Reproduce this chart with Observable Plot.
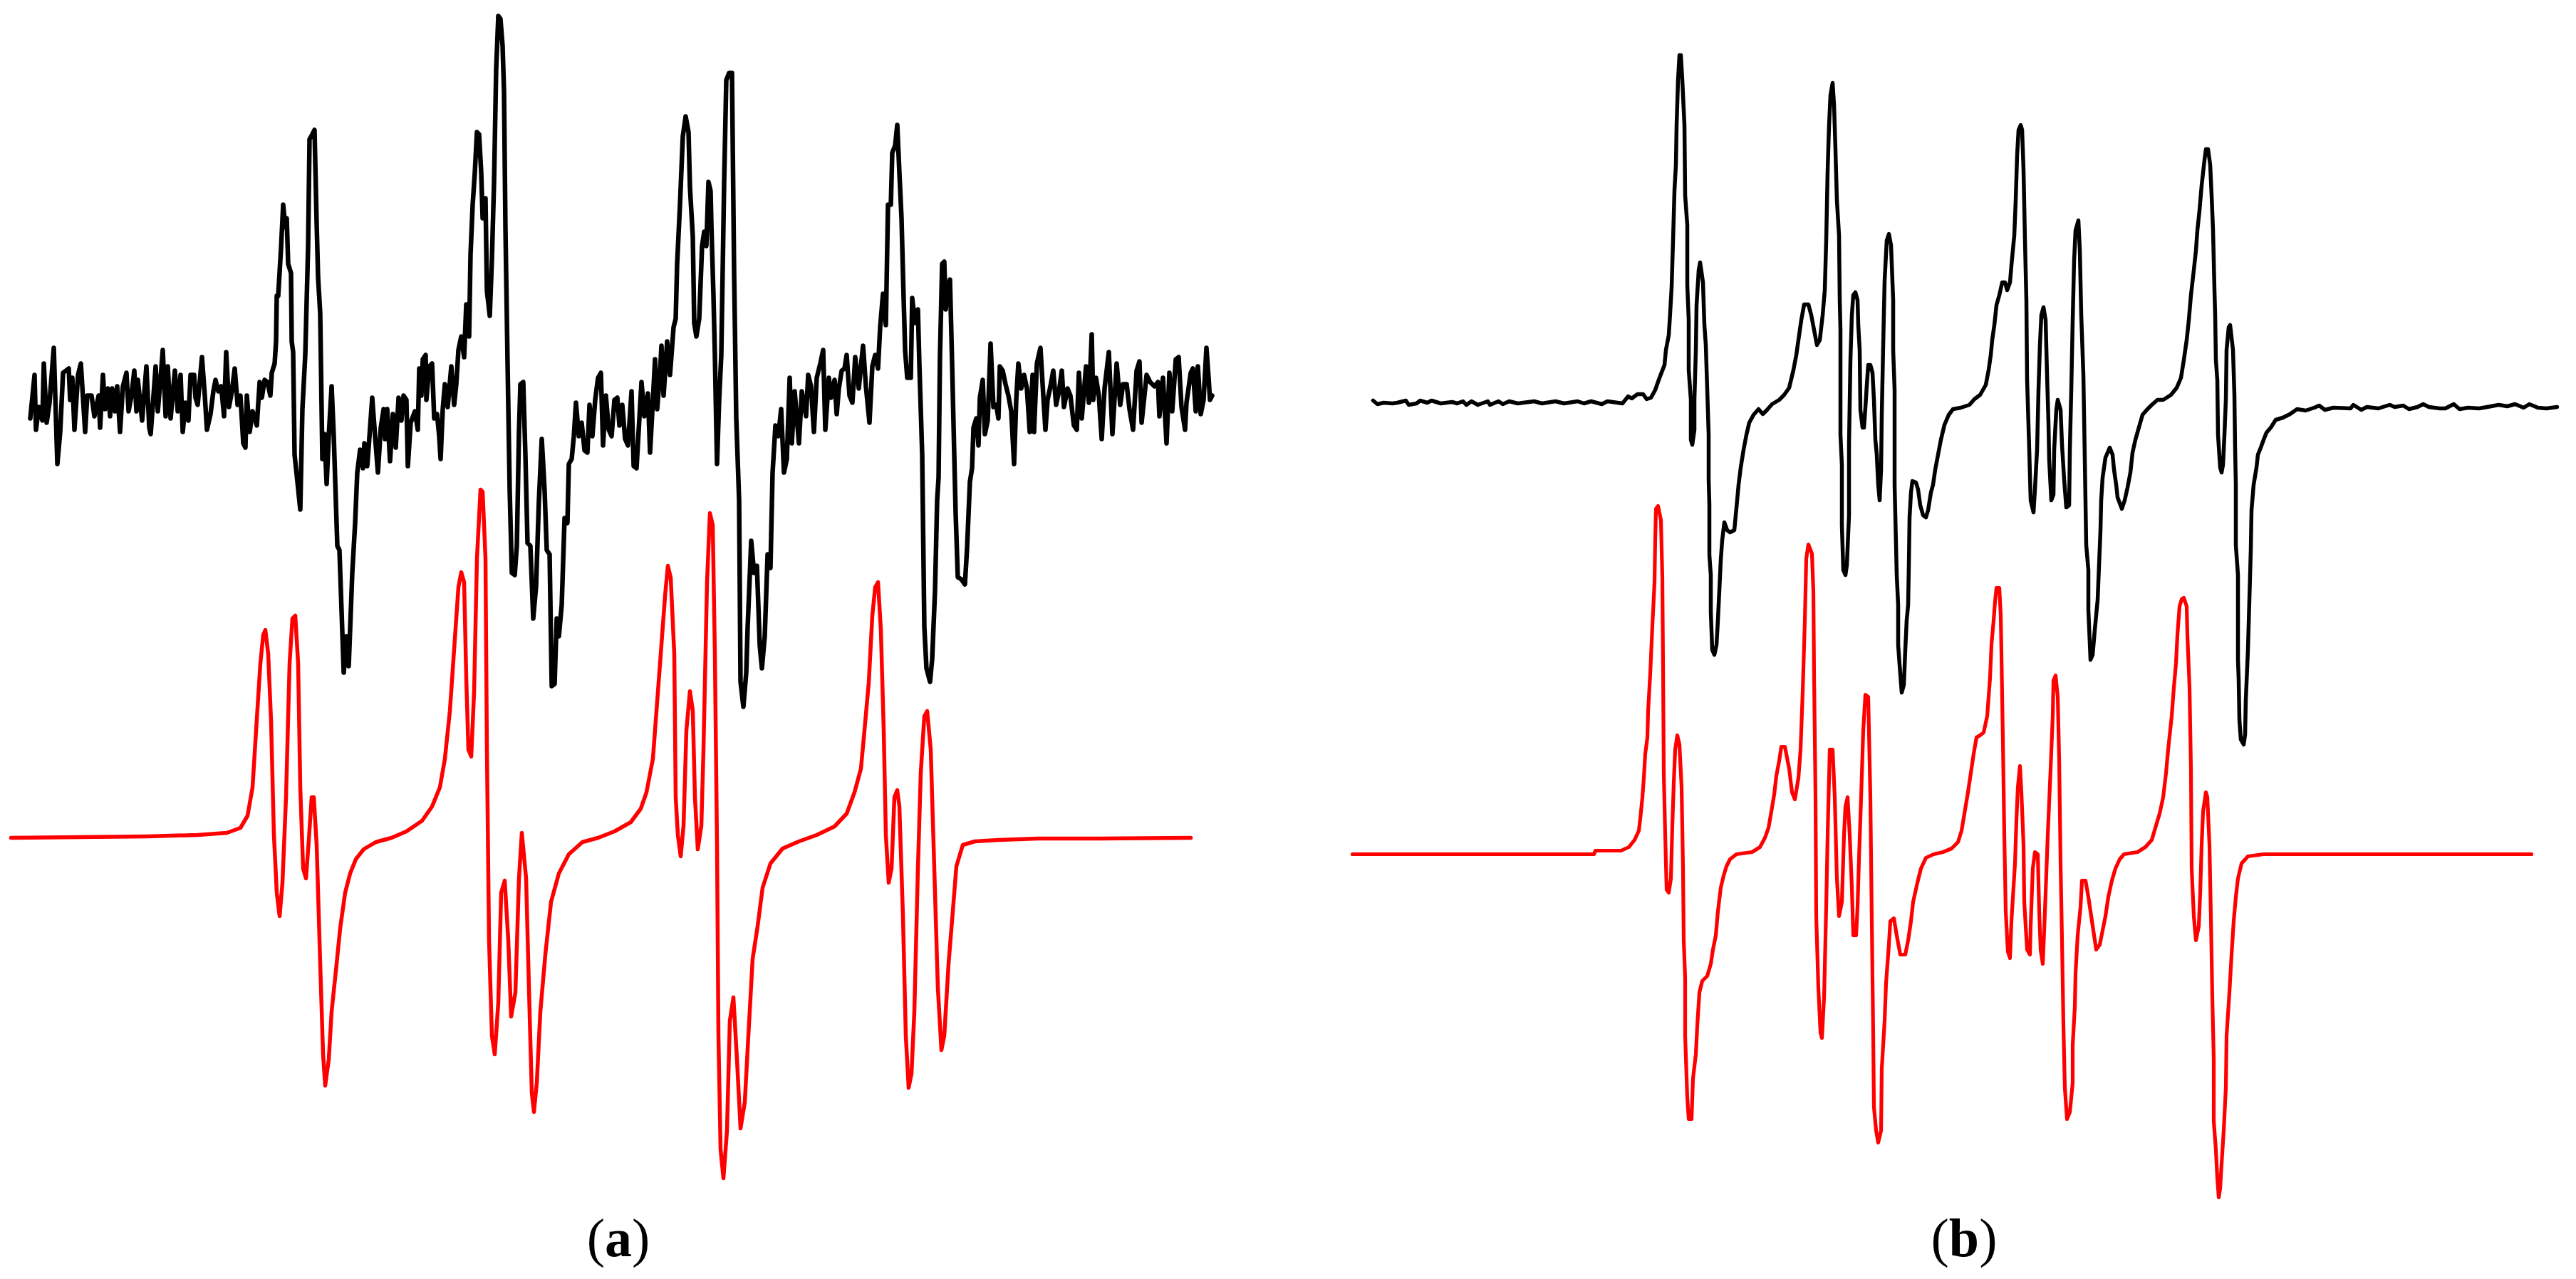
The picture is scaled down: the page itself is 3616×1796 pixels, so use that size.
<!DOCTYPE html>
<html>
<head>
<meta charset="utf-8">
<script src="https://cdn.jsdelivr.net/npm/d3@7"></script>
<script src="https://cdn.jsdelivr.net/npm/@observablehq/plot@0.6"></script>
<style>
html, body { margin: 0; padding: 0; background: #ffffff; }
#wrap { position: relative; width: 3616px; height: 1796px; overflow: hidden; background: #ffffff; }
.panel { position: absolute; top: 0; }
.label { position: absolute; font-family: "Liberation Serif", "DejaVu Serif", serif; font-size: 76px; line-height: 1; transform: translateX(-50%); white-space: nowrap; color: #000; }
.label b { font-weight: bold; }
</style>
</head>
<body>
<div id="wrap">
  <div id="pa" class="panel" style="left:0px"></div>
  <div id="pb" class="panel" style="left:1808px"></div>
  <div class="label" style="left:868px; top:1700px">(<b>a</b>)</div>
  <div class="label" style="left:2757px; top:1700px">(<b>b</b>)</div>
</div>
<script>
// Spectra: [field (arbitrary units), signal (arbitrary units, 0 = baseline)]
const panelLabels = ["(a)", "(b)"];

// Panel (a), experimental spectrum (black, noisy)
const aExperimental = [
[42,-12],[48,49],[50,-28],[54,4],[59,-15],[61,65],[65,-18],[69,10],[75,87],[80,-76],[84,-31],[88,52],[96,58],[98,14],[101,45],[104,-28],[109,49],[113,65],[119,-31],[122,20],[128,20],[132,-9],[138,20],[140,-25],[144,49],[147,1],[151,30],[154,-9],[157,30],[161,-2],[164,33],[168,-31],[172,33],[177,52],[180,-2],[184,20],[188,55],[191,-2],[193,42],[199,-15],[205,61],[209,-25],[211,-34],[218,61],[221,-2],[224,33],[228,84],[232,-9],[235,61],[239,-12],[245,55],[249,-2],[253,49],[256,-31],[260,10],[264,-15],[267,49],[272,49],[274,17],[277,7],[283,74],[287,20],[290,-28],[295,-6],[299,26],[302,42],[306,26],[310,33],[314,-9],[317,81],[321,4],[325,26],[329,58],[333,7],[337,20],[341,-47],[344,-53],[346,20],[350,-31],[354,-2],[360,-22],[364,39],[367,17],[371,42],[375,39],[379,20],[381,52],[385,65],[387,96],[388,160],[390,160],[394,227],[397,288],[400,256],[402,269],[404,205],[408,192],[409,96],[411,81],[413,-63],[417,-101],[421,-140],[424,1],[428,77],[432,230],[434,380],[438,387],[441,393],[444,262],[446,186],[449,135],[452,-69],[455,-34],[458,-104],[461,-37],[465,33],[468,-37],[473,-191],[476,-197],[482,-369],[486,-318],[489,-360],[494,-229],[498,-159],[501,-88],[505,-56],[509,-82],[511,-47],[515,-79],[519,-25],[522,17],[526,-37],[530,-88],[534,-25],[538,1],[540,-41],[543,1],[547,-72],[551,-6],[555,-53],[559,17],[563,-15],[566,20],[570,14],[572,-79],[576,-18],[582,-2],[586,-28],[588,58],[591,20],[593,71],[597,77],
[598,14],[602,61],[606,65],[609,-12],[613,-6],[616,-37],[618,-69],[621,1],[624,36],[628,4],[633,61],[637,7],[640,36],[643,84],[647,103],[651,74],[654,148],[658,103],[660,218],[663,288],[666,333],[669,390],[672,387],[675,333],[677,269],[681,297],[683,167],[687,132],[690,211],[693,320],[696,479],[699,553],[702,549],[705,511],[707,447],[709,256],[712,65],[715,-114],[718,-229],[722,-232],[725,-191],[728,-31],[730,36],[734,39],[737,-63],[740,-187],[744,-191],[748,-293],[752,-248],[756,-127],[760,-41],[764,-114],[767,-197],[771,-203],[774,-388],[778,-385],[781,-293],[784,-318],[788,-274],[792,-152],[796,-159],[798,-76],[802,-69],[805,-37],[808,10],[812,-37],[816,-18],[820,-57],[824,-60],[827,7],[831,-37],[835,14],[839,45],[843,52],[846,-50],[850,20],[854,-28],[858,-37],[862,14],[866,17],[869,-22],[873,7],[877,-41],[881,-50],[886,26],[889,-79],[893,-82],[897,-12],[900,39],[904,-9],[909,23],[912,-60],[916,14],[919,71],[922,1],[926,52],[928,90],[931,20],[936,96],[940,49],[945,116],[948,128],[950,205],[954,288],[958,384],[962,412],[966,390],[968,313],[972,243],[974,122],[977,103],[981,128],[985,230],[988,250],[991,230],[994,320],[997,307],[998,262],[1001,160],[1003,77],[1006,-76],[1009,14],[1012,77],[1016,320],[1019,463],[1023,473],[1027,473],[1030,192],[1033,-12],[1037,-127],[1039,-382],[1043,-417],[1047,-369],[1049,-305],[1054,-184],[1058,-229],[1062,-219],[1066,-331],[1069,-363],[1073,-318],[1077,-203],[1081,-222],[1084,-88],[1088,-22],[1092,-37],[1096,1],[1100,-88],[1104,-69],[1108,45],[1111,-47],[1115,26],[1121,-47],[1125,26],[1131,-9],[1134,49],[1138,33],[1142,-31],[1146,45],[1151,65],[1155,84],[1158,-28],
[1163,45],[1166,17],[1171,42],[1174,-6],[1177,30],[1181,55],[1185,58],[1188,77],[1192,20],[1196,10],[1200,74],[1205,30],[1209,71],[1211,90],[1215,33],[1220,-18],[1224,61],[1228,77],[1232,58],[1235,116],[1239,163],[1243,119],[1246,288],[1250,288],[1252,361],[1256,371],[1259,400],[1262,333],[1265,269],[1267,192],[1270,84],[1273,45],[1278,45],[1280,157],[1284,122],[1288,141],[1290,65],[1294,-63],[1297,-305],[1300,-363],[1305,-382],[1308,-350],[1312,-254],[1315,-127],[1317,-95],[1319,77],[1322,205],[1325,208],[1327,141],[1330,173],[1333,183],[1336,65],[1339,-63],[1341,-146],[1344,-235],[1349,-238],[1354,-245],[1357,-194],[1361,-101],[1364,-82],[1366,-25],[1370,-12],[1373,-50],[1375,17],[1379,42],[1382,-34],[1386,-15],[1390,93],[1394,4],[1398,7],[1401,-12],[1403,61],[1407,55],[1411,36],[1415,20],[1419,-2],[1423,-76],[1426,14],[1429,65],[1433,30],[1437,49],[1441,30],[1445,-31],[1449,49],[1451,-31],[1455,65],[1460,87],[1464,20],[1467,-28],[1470,14],[1474,33],[1478,55],[1482,7],[1486,26],[1490,55],[1493,4],[1498,30],[1502,20],[1507,-22],[1511,-28],[1514,52],[1518,-12],[1524,61],[1528,10],[1532,106],[1534,14],[1538,45],[1542,20],[1546,-41],[1550,30],[1556,81],[1561,-34],[1567,65],[1572,7],[1576,36],[1581,36],[1585,1],[1590,-28],[1595,55],[1599,68],[1602,-18],[1609,49],[1614,39],[1620,33],[1625,39],[1627,-9],[1632,45],[1637,-47],[1641,52],[1645,-2],[1650,71],[1654,74],[1658,4],[1663,-28],[1665,10],[1671,52],[1674,58],[1678,-2],[1681,61],[1685,-6],[1689,14],[1693,87],[1696,45],[1698,14],[1701,20]
];

// Panel (a), simulated spectrum (red)
const aSimulated = [
[15,0],[206,2],[277,4],[318,7],[337,14],[347,31],[354,71],[359,151],[365,245],[369,285],[372,292],[376,258],[380,164],[384,4],[388,-77],[392,-110],[396,-63],[401,57],[406,245],[410,308],[414,312],[418,245],[421,71],[425,-43],[429,-57],[433,-3],[437,57],[440,57],[444,-10],[449,-177],[453,-304],[456,-348],[461,-311],[465,-244],[472,-177],[477,-127],[484,-77],[491,-50],[499,-30],[510,-16],[527,-6],[549,0],[570,9],[592,24],[606,44],[617,71],[624,111],[631,178],[637,265],[643,352],[647,373],[651,359],[654,225],[657,124],[661,114],[665,205],[669,392],[674,489],[677,486],[681,392],[683,124],[686,-144],[690,-278],[694,-304],[699,-231],[703,-77],[708,-60],[713,-144],[717,-251],[723,-217],[728,-57],[732,7],[738,-57],[742,-211],[746,-358],[749,-385],[753,-344],[758,-244],[765,-164],[773,-90],[784,-50],[798,-23],[817,-6],[839,0],
[862,9],[885,22],[899,41],[907,64],[916,111],[921,178],[927,258],[933,339],[937,382],[941,365],[946,258],[948,57],[951,4],[955,-26],[959,17],[963,151],[968,206],[972,178],[975,57],[979,-16],[984,17],[987,124],[992,359],[996,456],[1000,439],[1003,258],[1006,-10],[1008,-278],[1011,-438],[1015,-478],[1020,-411],[1024,-257],[1029,-224],[1034,-311],[1039,-408],[1045,-371],[1050,-278],[1056,-170],[1063,-124],[1070,-70],[1081,-36],[1098,-15],[1121,-5],[1146,4],[1171,16],[1188,34],[1199,64],[1208,97],[1213,151],[1219,218],[1224,312],[1228,352],[1232,359],[1236,292],[1240,151],[1243,4],[1247,-63],[1251,-43],[1255,57],[1259,67],[1262,44],[1267,-110],[1271,-278],[1275,-351],[1279,-331],[1283,-244],[1288,-43],[1292,91],[1297,171],[1301,178],[1306,124],[1310,-10],[1316,-211],[1321,-298],[1325,-278],[1331,-177],[1337,-103],[1342,-40],[1351,-10],[1368,-5],[1401,-3],[1457,-1],[1542,-1],[1671,0]
];

// Panel (b), experimental spectrum (black)
const bExperimental = [
[1927,3],[1933,-2],[1942,0],[1954,-1],[1961,0],[1973,3],[1977,-3],[1988,-1],[1993,3],[2003,0],[2009,3],[2022,-1],[2038,1],[2045,-1],[2053,2],[2058,-3],[2065,2],[2074,-3],[2088,2],[2091,-3],[2103,2],[2109,-2],[2118,2],[2130,-1],[2153,2],[2164,-1],[2183,2],[2195,-1],[2214,2],[2223,-1],[2233,2],[2248,-2],[2256,2],[2277,-1],[2285,9],[2290,6],[2298,12],[2306,12],[2311,5],[2317,7],[2323,18],[2329,35],[2336,53],[2338,74],[2342,95],[2344,127],[2346,162],[2348,228],[2350,298],[2352,334],[2353,390],[2355,453],[2357,488],[2359,488],[2361,453],[2364,390],[2365,291],[2368,249],[2368,165],[2370,116],[2370,46],[2373,4],[2373,-52],[2375,-59],[2378,-38],[2378,4],[2380,74],[2381,137],[2384,186],[2386,197],[2390,169],[2392,109],[2394,81],[2396,18],[2398,-45],[2398,-108],[2399,-143],[2399,-214],[2401,-242],[2401,-294],[2403,-347],[2406,-354],[2409,-340],[2411,-305],[2413,-263],[2415,-221],[2417,-193],[2420,-168],[2424,-179],[2428,-182],[2434,-179],[2436,-158],[2438,-137],[2440,-115],[2443,-91],[2447,-66],[2451,-45],[2455,-28],[2461,-17],[2468,-9],[2474,-16],[2480,-10],[2487,-2],[2497,4],
[2504,11],[2511,21],[2517,46],[2521,67],[2525,95],[2528,116],[2532,138],[2538,138],[2542,123],[2546,102],[2550,81],[2554,88],[2558,123],[2561,158],[2563,228],[2565,326],[2567,390],[2569,432],[2572,449],[2574,418],[2576,355],[2578,284],[2581,235],[2582,144],[2583,102],[2583,-45],[2585,-87],[2585,-172],[2587,-235],[2590,-242],[2592,-228],[2595,-158],[2595,-59],[2597,60],[2599,123],[2601,151],[2604,155],[2607,144],[2608,109],[2610,74],[2611,-10],[2614,-35],[2616,-35],[2618,-7],[2620,25],[2622,53],[2625,53],[2628,42],[2630,4],[2632,-52],[2634,-73],[2636,-115],[2638,-137],[2640,-94],[2641,-17],[2643,81],[2645,172],[2648,228],[2651,237],[2654,221],[2657,144],[2657,74],[2659,18],[2659,-115],[2660,-158],[2662,-242],[2664,-284],[2664,-340],[2666,-368],[2669,-407],[2672,-396],[2674,-347],[2676,-305],[2678,-284],[2679,-228],[2680,-161],[2682,-126],[2684,-110],[2689,-112],[2692,-122],[2695,-144],[2699,-158],[2703,-161],[2706,-151],[2710,-126],[2713,-115],[2716,-94],[2720,-73],[2724,-52],[2729,-31],[2735,-17],[2741,-9],[2752,-7],[2764,-3],[2771,5],[2779,11],[2787,25],[2791,46],[2794,67],[2796,88],[2799,109],[2802,137],[2806,151],[2810,169],[2814,169],[2817,158],[2821,169],[2823,193],[2827,235],[2829,284],[2831,348],[2833,383],[2836,390],[2838,383],[2840,326],[2842,228],[2844,144],[2845,32],[2848,-66],[2850,-137],[2854,-154],[2856,-122],[2859,-66],[2861,18],[2863,81],[2865,123],[2868,134],[2871,116],[2873,39],[2875,-29],[2876,-80],[2879,-137],[2882,-129],[2883,-66],[2886,-10],[2888,4],[2892,-10],[2894,-59],[2897,-108],[2900,-147],[2904,-144],[2905,-66],[2907,18],[2909,116],[2911,200],[2913,242],[2917,256],[2919,214],[2921,123],[2924,39],[2926,-80],[2928,-200],[2931,-235],[2931,-291],[2934,-361],[2937,-354],[2940,-319],[2944,-277],[2946,-228],[2948,-179],[2949,-137],[2951,-105],[2955,-77],[2961,-63],[2965,-73],[2967,-94],[2970,-115],[2972,-133],[2978,-149],[2982,-137],[2986,-119],[2990,-98],[2993,-70],[2997,-52],[3001,-38],[3007,-17],[3013,-10],[3020,-3],[3028,4],[3036,4],[3047,11],
[3055,21],[3061,35],[3065,60],[3069,88],[3072,116],[3075,151],[3079,186],[3082,214],[3084,242],[3087,270],[3090,305],[3094,341],[3096,356],[3099,356],[3102,334],[3104,291],[3106,242],[3108,158],[3109,123],[3110,60],[3112,32],[3113,-45],[3116,-91],[3118,-98],[3120,-87],[3122,-45],[3124,4],[3125,74],[3128,106],[3130,109],[3134,74],[3136,11],[3137,-66],[3138,-115],[3138,-200],[3141,-242],[3141,-361],[3142,-389],[3143,-445],[3145,-473],[3149,-480],[3151,-466],[3152,-417],[3155,-347],[3157,-277],[3159,-207],[3160,-151],[3163,-115],[3167,-91],[3169,-73],[3173,-63],[3177,-52],[3181,-42],[3187,-35],[3194,-24],[3204,-21],[3214,-16],[3224,-9],[3236,-11],[3248,-7],[3255,-4],[3263,-10],[3275,-7],[3299,-8],[3303,-3],[3314,-10],[3322,-6],[3338,-8],[3354,-3],[3361,-6],[3373,-4],[3381,-9],[3393,-6],[3401,-2],[3409,-6],[3424,-8],[3432,-8],[3444,-2],[3452,-9],[3464,-7],[3479,-8],[3491,-6],[3507,-3],[3519,-5],[3530,-2],[3542,-7],[3550,-2],[3562,-7],[3574,-8],[3589,-6]
];

// Panel (b), simulated spectrum (red)
const bSimulated = [
[1898,0],[2237,0],[2239,5],[2275,5],[2286,10],[2294,20],[2300,33],[2302,50],[2305,80],[2307,107],[2309,141],[2312,164],[2313,201],[2316,254],[2319,321],[2322,382],[2323,442],[2324,485],[2327,489],[2331,469],[2333,388],[2334,261],[2335,114],[2337,27],[2339,-50],[2342,-54],[2345,-34],[2347,40],[2349,100],[2351,147],[2354,167],[2357,154],[2360,94],[2362,-20],[2363,-121],[2365,-174],[2365,-255],[2368,-342],[2370,-372],[2374,-372],[2376,-315],[2380,-281],[2382,-241],[2385,-194],[2389,-178],[2396,-171],[2401,-154],[2404,-134],[2408,-114],[2411,-80],[2415,-47],[2419,-30],[2423,-17],[2428,-7],[2437,0],[2459,3],[2470,10],[2477,23],[2482,37],[2486,60],[2490,84],[2493,110],[2497,131],[2500,151],[2505,151],[2511,120],[2515,87],[2519,77],[2524,107],[2527,147],[2530,228],[2533,328],[2535,415],[2538,435],[2543,422],[2545,368],[2546,248],[2548,80],[2549,-87],[2552,-188],[2555,-251],[2557,-258],[2560,-201],[2563,-74],[2565,27],[2568,147],[2572,147],[2575,80],[2578,-34],[2581,-87],[2585,-67],[2588,27],[2590,67],[2593,80],[2596,27],[2599,-47],[2601,-114],[2605,-114],[2607,-74],[2609,-7],[2612,80],[2615,174],[2618,224],[2622,221],[2623,174],[2625,80],[2627,-94],[2629,-255],[2630,-355],[2633,-388],[2636,-405],[2640,-388],[2641,-301],[2645,-234],[2647,-181],[2651,-127],[2653,-94],[2658,-90],[2662,-114],[2667,-141],[2674,-141],[2678,-121],[2682,-94],[2685,-67],[2691,-40],[2696,-20],[2703,-5],[2714,0],[2727,3],[2739,8],
[2748,17],[2753,33],[2757,57],[2762,87],[2766,114],[2770,141],[2774,164],[2779,167],[2784,171],[2789,194],[2793,248],[2795,295],[2798,328],[2800,355],[2802,374],[2806,374],[2808,335],[2809,281],[2811,161],[2813,27],[2815,-80],[2818,-137],[2821,-146],[2823,-94],[2828,-13],[2830,47],[2832,94],[2835,124],[2837,87],[2840,13],[2841,-67],[2845,-134],[2849,-141],[2850,-101],[2853,-20],[2856,3],[2860,0],[2862,-80],[2864,-134],[2867,-154],[2869,-107],[2871,-54],[2874,27],[2878,120],[2881,194],[2882,244],[2885,251],[2888,221],[2890,134],[2892,-13],[2894,-121],[2896,-241],[2898,-328],[2901,-372],[2905,-362],[2909,-321],[2909,-268],[2912,-214],[2913,-167],[2916,-114],[2920,-74],[2922,-37],[2927,-37],[2931,-60],[2935,-87],[2939,-114],[2942,-134],[2947,-127],[2951,-107],[2955,-87],[2959,-60],[2964,-37],[2969,-20],[2975,-7],[2981,0],[3000,3],[3011,10],[3020,20],[3025,37],[3031,57],[3036,80],[3040,114],[3043,147],[3048,194],[3051,234],[3054,268],[3056,308],[3059,348],[3062,358],[3065,360],[3069,348],[3070,308],[3073,234],[3075,120],[3076,-20],[3079,-87],[3082,-121],[3086,-101],[3088,-54],[3090,13],[3092,60],[3096,87],[3098,80],[3101,13],[3103,-87],[3105,-201],[3107,-288],[3107,-375],[3110,-415],[3112,-455],[3114,-482],[3116,-469],[3118,-435],[3121,-388],[3124,-328],[3125,-255],[3129,-194],[3132,-141],[3135,-94],[3138,-60],[3141,-34],[3146,-13],[3155,-3],[3177,0],[3553,0]
];

// Layout helpers (not data)
const PANEL_W = 1808, PANEL_H = 1690;

function drawPanel(experimental, simulated, xStart, expOffset, yTop, expWidth, simWidth) {
  const exp = experimental.map(([field, signal]) => ({field, value: signal + expOffset}));
  const sim = simulated.map(([field, signal]) => ({field, value: signal}));
  return Plot.plot({
    width: PANEL_W,
    height: PANEL_H,
    margin: 0,
    x: {domain: [xStart, xStart + PANEL_W], axis: null},
    y: {domain: [yTop - PANEL_H, yTop], axis: null},
    style: {background: "#ffffff", overflow: "visible"},
    marks: [
      Plot.line(exp, {x: "field", y: "value", stroke: "#000000", strokeWidth: expWidth, strokeLinejoin: "round", strokeLinecap: "round"}),
      Plot.line(sim, {x: "field", y: "value", stroke: "#ff0000", strokeWidth: simWidth, strokeLinejoin: "round", strokeLinecap: "round"})
    ]
  });
}

document.getElementById("pa").appendChild(drawPanel(aExperimental, aSimulated, 0, 601, 1176, 6.5, 5.5));
document.getElementById("pb").appendChild(drawPanel(bExperimental, bSimulated, PANEL_W, 634, 1199, 5.5, 5.2));
</script>
</body>
</html>
